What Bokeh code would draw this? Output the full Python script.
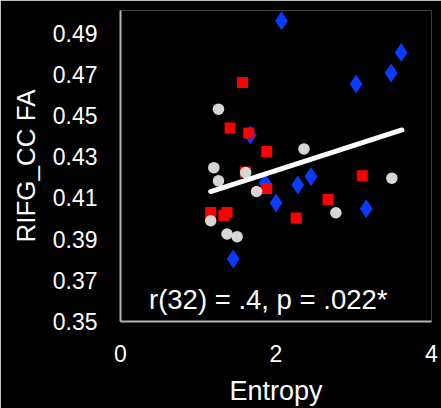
from bokeh.plotting import figure
from bokeh.models import Label, FixedTicker, Range1d
from bokeh.embed import file_html
from bokeh.resources import INLINE

# Data
blue_x = [2.07, 3.61, 3.48, 3.03, 1.67, 2.45, 2.28, 1.86, 2.00, 3.16, 1.45]
blue_y = [0.496, 0.4806, 0.4707, 0.4653, 0.4406, 0.4204, 0.4163, 0.4172, 0.4075, 0.4047, 0.3804]

red_x = [1.57, 1.41, 1.65, 1.88, 3.11, 1.88, 2.67, 1.16, 1.37, 1.33, 2.26, 1.605]
red_y = [0.4661, 0.4439, 0.4415, 0.4325, 0.4208, 0.4146, 0.4092, 0.4029, 0.4029, 0.4015, 0.4002, 0.4226]

gray_x = [1.26, 2.36, 1.20, 1.61, 1.26, 3.49, 1.75, 2.77, 1.16, 1.37, 1.50]
gray_y = [0.4531, 0.4338, 0.4247, 0.4223, 0.4183, 0.4196, 0.4131, 0.4028, 0.3989, 0.3925, 0.3912]

fit_x = [1.16, 3.62]
fit_y = [0.4131, 0.4430]

x_ticks = [0, 2, 4]
y_ticks = [0.35, 0.37, 0.39, 0.41, 0.43, 0.45, 0.47, 0.49]
y_tick_labels = {0.35: "0.35", 0.37: "0.37", 0.39: "0.39", 0.41: "0.41",
                 0.43: "0.43", 0.45: "0.45", 0.47: "0.47", 0.49: "0.49"}
annotation = "r(32) = .4, p = .022*"

FONT = "Liberation Sans"

p = figure(width=441, height=408, output_backend="svg", toolbar_location=None,
           x_range=Range1d(0, 4), y_range=Range1d(0.35, 0.501),
           background_fill_color="black", border_fill_color="black",
           min_border_left=120, min_border_right=10, min_border_top=10,
           min_border_bottom=87)
p.outline_line_color = None
p.grid.visible = False

for ax in (p.xaxis, p.yaxis):
    ax.axis_line_color = "#b4b4b4"
    ax.axis_line_width = 2
    ax.major_tick_line_color = None
    ax.minor_tick_line_color = None
    ax.major_tick_out = 0
    ax.major_tick_in = 0
    ax.major_label_text_color = "white"
    ax.major_label_text_font = FONT
    ax.major_label_text_font_size = "23px"
    ax.axis_label_text_color = "white"
    ax.axis_label_text_font = FONT
    ax.axis_label_text_font_style = "normal"

p.xaxis.ticker = FixedTicker(ticks=x_ticks)
p.yaxis.ticker = FixedTicker(ticks=y_ticks)
p.yaxis.major_label_overrides = y_tick_labels
p.xaxis.major_label_standoff = 23
p.yaxis.major_label_standoff = 23
p.xaxis.axis_label = "Entropy"
p.yaxis.axis_label = "RIFG_CC FA"
p.xaxis.axis_label_text_font_size = "27px"
p.yaxis.axis_label_text_font_size = "26px"
p.xaxis.axis_label_standoff = 11
p.yaxis.axis_label_standoff = 9

p.scatter(blue_x, blue_y, marker="diamond", size=19, fill_color="#0a3cff", line_color=None)
p.scatter(red_x, red_y, marker="square", size=11, fill_color="#ff0000", line_color=None)
p.scatter(gray_x, gray_y, marker="circle", size=11.5, fill_color="#d6d6d6", line_color=None)

p.line(fit_x, fit_y, line_color="white", line_width=5, line_cap="round")

p.add_layout(Label(x=1.90, y=0.3607, text=annotation, text_color="white",
                   text_font=FONT, text_font_size="27.5px", text_align="center",
                   text_baseline="alphabetic"))

open("out.html", "w").write(file_html(p, INLINE))
